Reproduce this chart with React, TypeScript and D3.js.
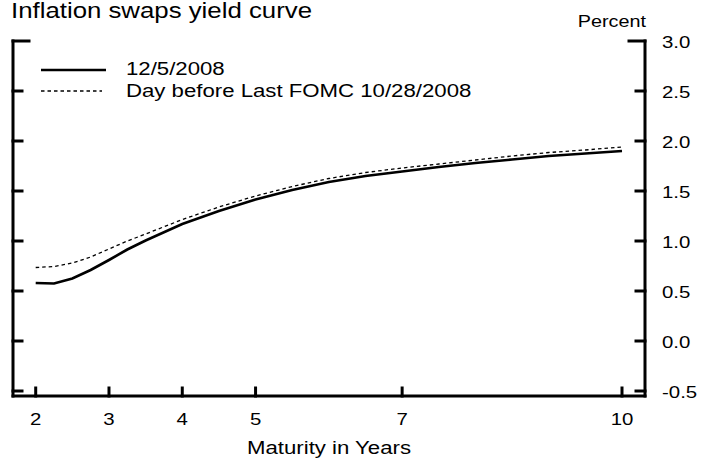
import React from "react";
import * as d3 from "d3";

const maturities = [2, 2.25, 2.5, 2.75, 3, 3.25, 3.5, 4, 4.5, 5, 5.5, 6, 6.5, 7, 7.5, 8, 8.5, 9, 9.5, 10];
const current = [0.58, 0.575, 0.625, 0.71, 0.81, 0.915, 1.005, 1.17, 1.3, 1.415, 1.51, 1.59, 1.65, 1.695, 1.74, 1.78, 1.815, 1.85, 1.875, 1.9];
const beforeFomc = [0.735, 0.745, 0.78, 0.84, 0.92, 1.0, 1.07, 1.215, 1.34, 1.45, 1.545, 1.625, 1.685, 1.73, 1.77, 1.81, 1.85, 1.885, 1.91, 1.94];
const xTicks = [2, 3, 4, 5, 7, 10];
const yTicks = [3.0, 2.5, 2.0, 1.5, 1.0, 0.5, 0.0, -0.5];
const seriesNames = ["12/5/2008", "Day before Last FOMC 10/28/2008"];
const title = "Inflation swaps yield curve";
const xTitle = "Maturity in Years";
const yUnit = "Percent";

const W = 711;
const H = 459;
const left = 13;
const right = 645;
const top = 41;
const bottomAxis = 396;
const SX = 1.2;
const FONT = "Arial, 'Liberation Sans', Helvetica, sans-serif";

export default function App() {
  const x = d3.scaleLinear().domain([2, 10]).range([35.7, 622]);
  const y = d3.scaleLinear().domain([-0.5, 3]).range([391, 41]);
  const line = d3
    .line<number>()
    .x((_, i) => x(maturities[i]))
    .y((d) => y(d));

  const T = (props: any) => {
    const { x: tx, y: ty, size, anchor, children } = props;
    return (
      <text
        transform={`translate(${tx},${ty}) scale(${SX},1)`}
        fontSize={size}
        textAnchor={anchor || "start"}
        fontFamily={FONT}
        fill="#000"
      >
        {children}
      </text>
    );
  };

  return (
    <svg
      width={W}
      height={H}
      style={{ position: "absolute", left: 0, top: 0, background: "#fff" }}
    >
      <rect x={0} y={0} width={W} height={H} fill="#fff" />
      <T x={11} y={18} size={21.5}>{title}</T>
      <T x={646} y={27} size={16.5} anchor="end">{yUnit}</T>

      {/* axes frame */}
      <g stroke="#000" strokeWidth={3} fill="none" strokeLinecap="square">
        <line x1={left} y1={top} x2={left} y2={bottomAxis} />
        <line x1={right} y1={top} x2={right} y2={bottomAxis} />
        <line x1={left} y1={bottomAxis} x2={right} y2={bottomAxis} />
        {yTicks.map((t, i) => {
          const len = i === 0 ? 16 : 9;
          return (
            <g key={"yt" + t}>
              <line x1={left} y1={y(t)} x2={left + len} y2={y(t)} />
              <line x1={right} y1={y(t)} x2={right - len} y2={y(t)} />
            </g>
          );
        })}
        {xTicks.map((t) => (
          <line key={"xt" + t} x1={x(t)} y1={bottomAxis} x2={x(t)} y2={bottomAxis - 8} />
        ))}
      </g>

      {yTicks.map((t) => (
        <T key={"yl" + t} x={662} y={y(t) + 6.5} size={17}>
          {t.toFixed(1)}
        </T>
      ))}
      {xTicks.map((t) => (
        <T key={"xl" + t} x={x(t)} y={425} size={17} anchor="middle">
          {String(t)}
        </T>
      ))}
      <T x={(left + right) / 2} y={454} size={18.5} anchor="middle">{xTitle}</T>

      {/* series */}
      <path d={line(beforeFomc) || ""} fill="none" stroke="#000" strokeWidth={1.3} strokeDasharray="3.5,3" />
      <path d={line(current) || ""} fill="none" stroke="#000" strokeWidth={2.6} />

      {/* legend */}
      <line x1={41} y1={70} x2={106} y2={70} stroke="#000" strokeWidth={2.6} />
      <T x={126} y={75} size={18.5}>{seriesNames[0]}</T>
      <line x1={41} y1={91} x2={102} y2={91} stroke="#000" strokeWidth={1.3} strokeDasharray="3.5,3" />
      <T x={126} y={97} size={18.5}>{seriesNames[1]}</T>
    </svg>
  );
}
